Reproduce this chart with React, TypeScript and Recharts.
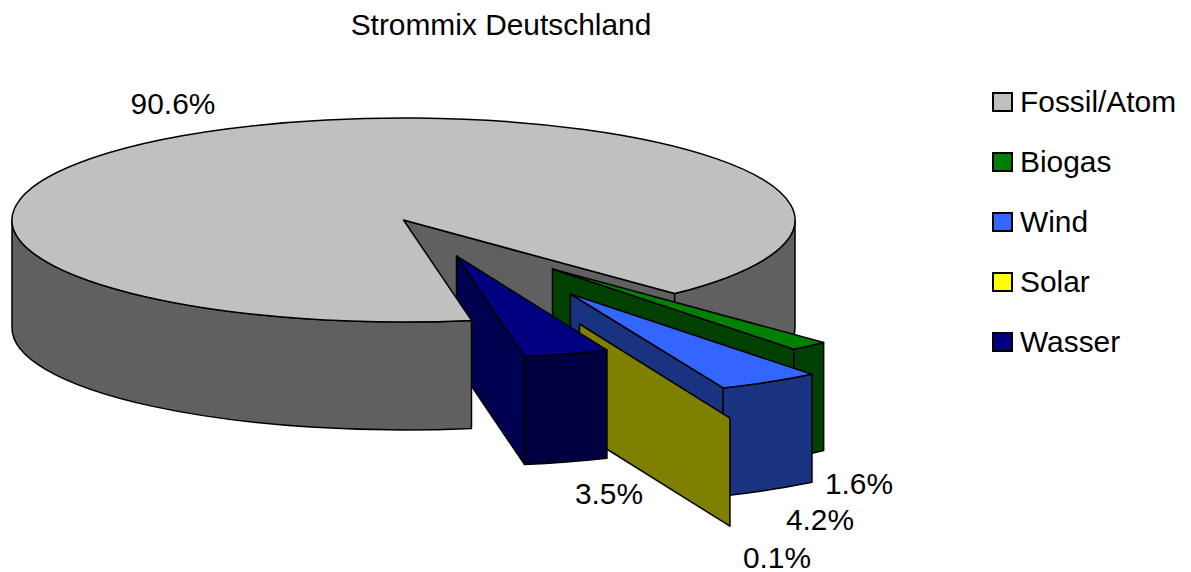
import React from "react";
import { PieChart, Pie, Legend } from "recharts";

const categories = ["Fossil/Atom", "Biogas", "Wind", "Solar", "Wasser"];
const shares = [90.6, 1.6, 4.2, 0.1, 3.5];

const topColors = ["#C0C0C0", "#008000", "#3366FF", "#FFFF00", "#000080"];
const wallColors = ["#606060", "#004000", "#1A3380", "#808000", "#000040"];
const faceColors = ["#606060", "#004000", "#1A3380", "#808000", "#000050"];

// how far each slice is pulled out of the pie, in px
const explode = [
  [0, 0],
  [149, 49],
  [167, 74],
  [176, 104],
  [53, 36],
];
const labelSpots = [
  [173, 103],
  [859, 483],
  [820, 519],
  [777, 557],
  [609, 493],
];

const CX = 403.5;
const CY = 220;
const RX = 391.5;
const RY = 102;
const DEPTH = 108;
const FONT = "Liberation Sans, Arial, sans-serif";

const data = categories.map((name, i) => ({ name, value: shares[i], fill: topColors[i] }));

const rad = (a: number) => (a * Math.PI) / 180;

function SliceShape(props: any, layer: "back" | "front") {
  const idx = categories.indexOf(props.name ?? props.payload?.name);
  const [sx, sy] = explode[idx];
  // recharts runs counter clockwise from east, flip it to screen angles
  const a = -props.startAngle;
  const b = -props.endAngle;
  const x0 = props.cx + sx;
  const y0 = props.cy + sy;
  const px = (t: number) => x0 + RX * Math.cos(rad(t));
  const py = (t: number) => y0 + RY * Math.sin(rad(t));
  const sliver = b - a < 1; // Solar: only the cut face shows

  const stroke = { stroke: "#000", strokeWidth: 1.5, strokeLinejoin: "round" as const };

  const top = sliver ? null : (
    <path
      d={`M${x0},${y0} L${px(a)},${py(a)} A${RX},${RY} 0 ${b - a > 180 ? 1 : 0} 1 ${px(b)},${py(b)} Z`}
      fill={topColors[idx]}
      {...stroke}
    />
  );
  const face = (
    <path
      d={`M${x0},${y0} L${px(b)},${py(b)} L${px(b)},${py(b) + DEPTH} L${x0},${y0 + DEPTH} Z`}
      fill={faceColors[idx]}
      {...stroke}
    />
  );

  // only the part of the rim facing the viewer gets a wall
  const walls: React.ReactNode[] = [];
  for (const k of [0, 360]) {
    const s = Math.max(a, k);
    const e = Math.min(b, k + 180);
    if (e <= s || sliver) continue;
    walls.push(
      <path
        key={k}
        d={`M${px(s)},${py(s)} A${RX},${RY} 0 0 1 ${px(e)},${py(e)} L${px(e)},${py(e) + DEPTH} A${RX},${RY} 0 0 0 ${px(s)},${py(s) + DEPTH} Z`}
        fill={wallColors[idx]}
        {...stroke}
      />
    );
  }

  if (idx === 0) {
    // the big slice overlaps the Wasser slice but sits behind Biogas etc
    if (layer === "back") {
      return (
        <g>
          {face}
          {walls[1]}
        </g>
      );
    }
    return (
      <g>
        {walls[0]}
        {top}
      </g>
    );
  }
  if (layer === "front") return <g />;
  return (
    <g>
      {face}
      {walls}
      {top}
    </g>
  );
}

function renderLabel(props: any) {
  const idx = categories.indexOf(props.name ?? props.payload?.name);
  const [x, y] = labelSpots[idx];
  return (
    <text x={x} y={y} textAnchor="middle" dominantBaseline="central" fontFamily={FONT} fontSize={29.9} fill="#000">
      {shares[idx].toFixed(1)}%
    </text>
  );
}

function LegendBox({ payload }: any) {
  // two Pies feed the legend, keep one entry per category
  const seen = new Set((payload ?? []).map((item: any) => item.value));
  const items = categories.filter((c) => seen.has(c));
  return (
    <div style={{ fontFamily: FONT, fontSize: 29.9, color: "#000" }}>
      {items.map((name) => (
        <div key={name} style={{ display: "flex", alignItems: "center", height: 60 }}>
          <span
            style={{
              width: 17,
              height: 16,
              background: topColors[categories.indexOf(name)],
              border: "2px solid #000",
              marginRight: 7,
            }}
          />
          {name}
        </div>
      ))}
    </div>
  );
}

export default function App() {
  return (
    <div style={{ position: "absolute", left: 0, top: 0, width: 1191, height: 572, background: "#fff" }}>
      <PieChart width={1191} height={572} margin={{ top: 0, right: 0, bottom: 0, left: 0 }}>
        <text x={501} y={35} textAnchor="middle" fontFamily={FONT} fontSize={29.9} fill="#000">
          Strommix Deutschland
        </text>
        <Pie
          data={data}
          dataKey="value"
          nameKey="name"
          cx={CX}
          cy={CY}
          outerRadius={RX}
          startAngle={-80}
          endAngle={-440}
          isAnimationActive={false}
          shape={(p: any) => SliceShape(p, "back")}
        />
        <Pie
          data={data}
          dataKey="value"
          nameKey="name"
          cx={CX}
          cy={CY}
          outerRadius={RX}
          startAngle={-80}
          endAngle={-440}
          isAnimationActive={false}
          legendType="none"
          label={renderLabel}
          labelLine={false}
          shape={(p: any) => SliceShape(p, "front")}
        />
        <Legend
          layout="vertical"
          itemSorter={null}
          content={<LegendBox />}
          wrapperStyle={{ position: "absolute", left: 992, top: 72, width: 195, bottom: "auto", right: "auto" }}
        />
      </PieChart>
    </div>
  );
}
